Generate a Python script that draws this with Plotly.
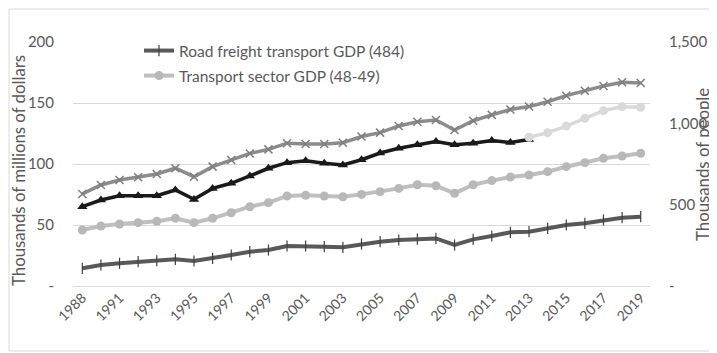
import plotly.graph_objects as go

# ---------------- data ----------------
years = ["1988", "1990"] + [str(y) for y in range(1991, 2020)]
year_ticks = years[::2]

road_freight_gdp = [14.5, 17.2, 18.6, 19.9, 20.7, 21.9, 20.5, 22.7, 25.4, 28.1, 29.5,
                    32.8, 32.8, 32.2, 31.7, 34.4, 36.3, 37.7, 38.5, 39.0, 33.6, 38.2,
                    41.0, 44.0, 44.5, 47.3, 50.0, 51.4, 54.1, 56.0, 56.8]
transport_gdp = [45.9, 49.2, 50.8, 51.9, 53.0, 55.5, 51.9, 55.5, 60.0, 65.0, 68.3,
                 73.8, 74.3, 73.8, 73.2, 75.1, 77.3, 80.0, 83.0, 82.2, 76.0, 83.0,
                 86.4, 89.3, 91.0, 93.7, 97.8, 101.1, 104.7, 106.6, 108.8]
transport_employment = [566, 621, 652, 668, 689, 724, 672, 734, 775, 815, 840,
                        878, 873, 873, 881, 919, 943, 984, 1010, 1020, 959, 1016,
                        1052, 1085, 1103, 1133, 1170, 1200, 1230, 1253, 1248]
road_freight_series = [65.0, 70.5, 74.0, 74.0, 74.0, 78.7, 71.0, 80.0, 84.2, 90.2, 96.5,
                       101.1, 102.7, 100.6, 99.2, 103.5, 109.0, 112.9, 115.8, 118.5, 115.8, 117.0,
                       119.2, 117.6, 120.0, None, None, None, None, None, None]
road_freight_series_ext = [None] * 24 + [121.9, 125.7, 131.1, 137.4, 143.7, 147.0, 146.5]

left_ticks = [0, 50, 100, 150, 200]
left_ticktext = ["-", "50", "100", "150", "200"]
right_ticks = [0, 500, 1000, 1500]
right_ticktext = ["-", "500", "1,000", "1,500"]

FONT = "Lato"
TXT = "#595959"

# page has an 8px body margin; figure is 709x345, plot area 577x244
OFF = 8
PX0, PW, PY0, PH = 73, 577, 286, 244   # in page pixels


def px(x):
    return (x - PX0) / PW


def py(y):
    return (PY0 - y) / PH


fig = go.Figure()

fig.add_trace(go.Scatter(
    x=years, y=transport_employment, yaxis="y2", mode="lines+markers",
    name="Transport employment", showlegend=False,
    line=dict(color="#8c8c8c", width=3.5),
    marker=dict(symbol="x-thin", size=8, line=dict(color="#7f7f7f", width=1.5)),
))
fig.add_trace(go.Scatter(
    x=years, y=road_freight_series, mode="lines+markers",
    name="Road freight series", showlegend=False,
    line=dict(color="#1a1a1a", width=3.5),
    marker=dict(symbol="triangle-up", size=9, color="#1a1a1a"),
))
fig.add_trace(go.Scatter(
    x=years, y=road_freight_series_ext, mode="lines+markers",
    name="Road freight series (ext)", showlegend=False,
    line=dict(color="#d9d9d9", width=3.5),
    marker=dict(symbol="circle", size=9, color="#d9d9d9"),
))
fig.add_trace(go.Scatter(
    x=years, y=transport_gdp, mode="lines+markers",
    name="Transport sector GDP (48-49)", legend="legend2",
    line=dict(color="#bfbfbf", width=4),
    marker=dict(symbol="circle", size=9, color="#b8b8b8"),
))
fig.add_trace(go.Scatter(
    x=years, y=road_freight_gdp, mode="lines+markers",
    name="Road freight transport GDP (484)", legend="legend",
    line=dict(color="#595959", width=4),
    marker=dict(symbol="line-ns", size=8, line=dict(color="#404040", width=1.2)),
))

fig.update_layout(
    width=717 - OFF, height=353 - OFF, autosize=False,
    margin=dict(l=PX0 - OFF, r=717 - OFF - (PX0 - OFF) - PW, t=42 - OFF,
                b=353 - OFF - (42 - OFF) - PH, autoexpand=False),
    paper_bgcolor="white", plot_bgcolor="white",
    font=dict(family=FONT, size=14, color=TXT),
    xaxis=dict(type="category", tickvals=year_ticks, ticktext=year_ticks,
               range=[-0.5, len(years) - 0.5],
               tickangle=-45, showgrid=False, ticks="", showline=False,
               automargin=False, tickfont=dict(size=14, color=TXT)),
    yaxis=dict(range=[0, 200], tickvals=left_ticks, ticktext=left_ticktext,
               showgrid=True, gridcolor="#d9d9d9", gridwidth=1,
               zeroline=True, zerolinecolor="#d9d9d9", zerolinewidth=1,
               automargin=False,
               ticks="", ticklabelstandoff=18, tickfont=dict(size=15, color=TXT)),
    yaxis2=dict(range=[0, 1500], tickvals=right_ticks, ticktext=right_ticktext,
                overlaying="y", side="right", showgrid=False, zeroline=False,
                automargin=False,
                ticks="", ticklabelstandoff=18, tickfont=dict(size=15, color=TXT)),
    legend=dict(x=px(139), y=py(51), xanchor="left", yanchor="middle",
                bgcolor="rgba(0,0,0,0)", font=dict(size=15.5, color=TXT)),
    legend2=dict(x=px(139), y=py(76), xanchor="left", yanchor="middle",
                 bgcolor="rgba(0,0,0,0)", font=dict(size=15.5, color=TXT)),
    annotations=[
        dict(text="Thousands of millions of dollars", xref="paper", yref="paper",
             x=px(18), y=py(171), textangle=-90,
             showarrow=False, xanchor="center", yanchor="middle",
             font=dict(size=16.8, color=TXT)),
        dict(text="Thousands of people", xref="paper", yref="paper",
             x=px(702), y=py(165), textangle=-90,
             showarrow=False, xanchor="center", yanchor="middle",
             font=dict(size=16.8, color=TXT)),
    ],
    shapes=[dict(type="rect", xref="paper", yref="paper",
                 x0=px(9), x1=px(713), y0=py(351), y1=py(9),
                 line=dict(color="#d9d9d9", width=1), layer="below")],
)

fig.write_html("out.html")
